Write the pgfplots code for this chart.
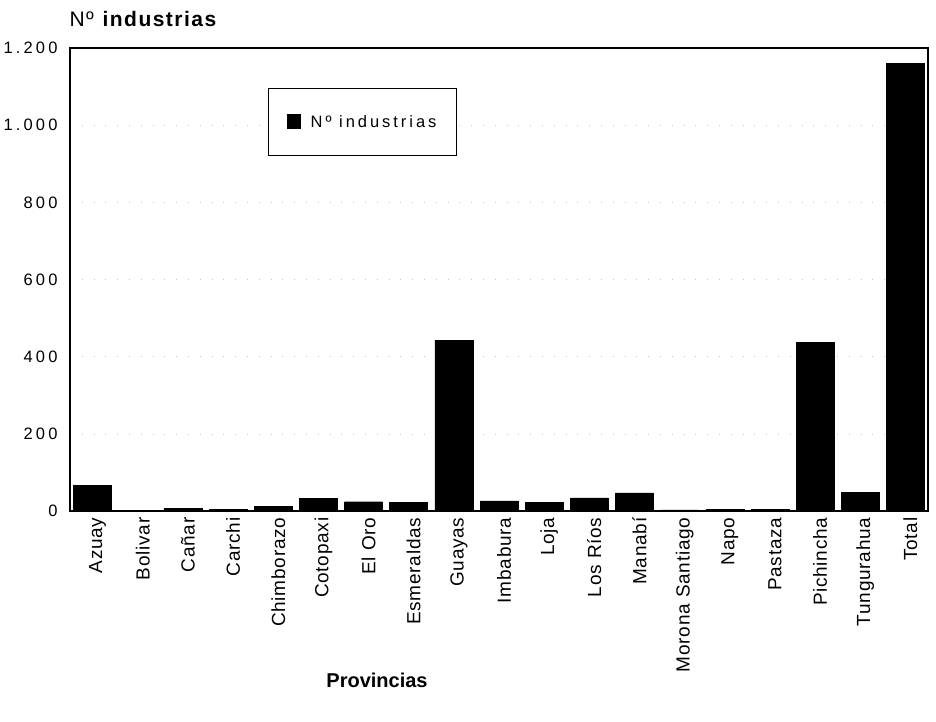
\documentclass[border=0pt]{standalone}
\usepackage{pgfplots}
\pgfplotsset{compat=1.18}
\usepackage{fontspec}
\setmainfont{Liberation Sans}
\newfontfamily\wide[LetterSpace=19]{Liberation Sans}
\newfontfamily\legfont[LetterSpace=18]{Liberation Sans}
\newfontfamily\titlefont[LetterSpace=7]{Liberation Sans}
\newfontfamily\lab[LetterSpace=4]{Liberation Sans}
\begin{document}
\begin{tikzpicture}
\useasboundingbox (0pt,0pt) rectangle (936pt,722pt);
\begin{axis}[
  at={(70pt,211pt)}, anchor=south west,
  scale only axis, width=858pt, height=463pt,
  xmin=-0.5, xmax=18.5, ymin=0, ymax=1200,
  ybar, bar width=38pt,
  xtick={0,...,18},
  xticklabels={Azuay,Bolivar,Cañar,Carchi,Chimborazo,Cotopaxi,El Oro,Esmeraldas,Guayas,Imbabura,Loja,Los Ríos,Manabí,Morona Santiago,Napo,Pastaza,Pichincha,Tungurahua,Total},
  ytick={0,200,...,1200},
  major tick length=0pt,
  ymajorgrids, grid style={gray!45, dash pattern=on 0.8pt off 11pt},
  axis line style={line width=1.4pt},
  x tick label style={rotate=90, anchor=east, font=\lab\fontsize{19}{20}\selectfont, yshift=-5pt, xshift=-3pt},
  y tick label style={font=\wide\fontsize{16.5}{17}\selectfont, /pgf/number format/1000 sep={.}, /pgf/number format/assume math mode=true, xshift=-9pt},
  legend entries={Nº industrias},
  legend style={at={(rel axis cs:0.231,0.914)}, anchor=north west, draw=black, line width=1pt,
    font=\legfont\fontsize{16.5}{17}\selectfont, inner xsep=18pt, inner ysep=25pt},
  legend image code/.code={\fill[black, draw=none] (0pt,-7pt) rectangle (14pt,8pt); \path[draw=none, fill=none] (0pt,0pt) rectangle (22pt,1pt);},
]
\addplot[fill=black, draw=black] coordinates {
(0,67) (1,2) (2,7) (3,5) (4,12) (5,33) (6,24) (7,22) (8,442) (9,26)
(10,22) (11,34) (12,47) (13,3) (14,5) (15,5) (16,437) (17,49) (18,1160)};
\end{axis}
\node[anchor=west, font=\titlefont\fontsize{21}{23}\selectfont] at (66pt,703pt) {Nº \textbf{industrias}};
\node[font=\bfseries\fontsize{20}{22}\selectfont] at (377pt,42pt) {Provincias};
\end{tikzpicture}
\end{document}
